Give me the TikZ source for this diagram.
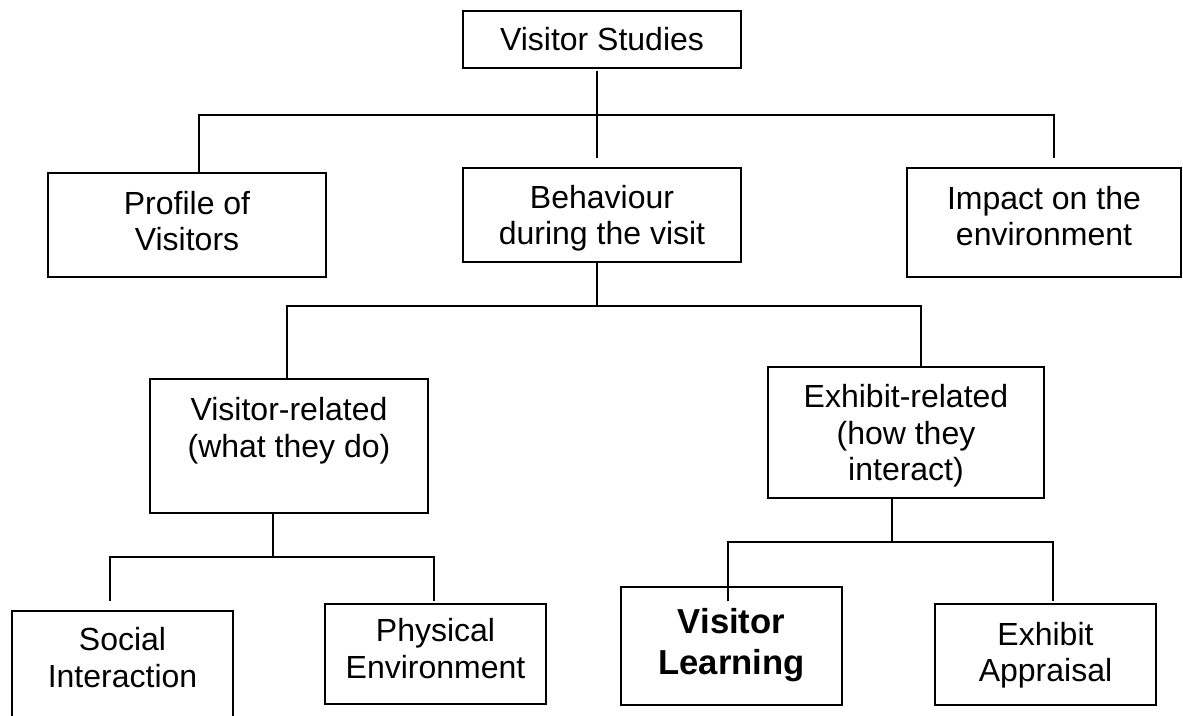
\documentclass[tikz,border=0pt]{standalone}
\usepackage{fontspec}
\setmainfont{Liberation Sans}
\usetikzlibrary{calc}

\tikzset{
  box/.style={draw, line width=1pt, align=center, inner sep=0pt,
    font=\fontsize{24}{27.5}\selectfont},
  wide/.style={minimum width=208.5pt},
  narrow/.style={minimum width=165.75pt},
  link/.style={line width=1pt}
}

\begin{document}
\begin{tikzpicture}[x=0.75pt, y=-0.75pt]
    \useasboundingbox (0,0) rectangle (1183,715);
    \clip (0,0) rectangle (1183,715);

    % Draw boxes
    \node[box, wide, minimum height=42.75pt] (vs) at (602,39.5) {Visitor Studies};
    \node[box, wide, minimum height=78pt, text depth=6pt] (pv) at (187,225) {Profile of\\Visitors};
    \node[box, wide, minimum height=70.5pt, text depth=0pt] (bh) at (602,215) {Behaviour\\during the visit};
    \node[box, minimum width=205.5pt, minimum height=81.75pt, text depth=10pt] (im) at (1044,222.5) {Impact on the\\environment};
    \node[box, wide, minimum height=100.5pt, text depth=28pt] (vr) at (289,446) {Visitor-related\\(what they do)};
    \node[box, minimum width=207pt, minimum height=98.25pt, text depth=0pt] (ex) at (906,432.5) {Exhibit-related\\(how they\\interact)};
    \node[box, narrow, minimum height=100.5pt, text depth=31pt] (si) at (122.5,678) {Social\\Interaction};
    \node[box, narrow, minimum height=75pt, text depth=8pt] (pe) at (435.5,654) {Physical\\Environment};
    \node[box, narrow, minimum height=88.5pt, text depth=6.75pt,
      font=\fontsize{26}{30.5}\selectfont\bfseries] (vl) at (731.5,646) {Visitor\\Learning};
    \node[box, narrow, minimum height=75.75pt, text depth=4pt] (ea) at (1045.5,654.5) {Exhibit\\Appraisal};

    % Branch points
    \coordinate (b1) at (597,115);
    \coordinate (b1l) at (199,115);
    \coordinate (b1r) at (1054,115);
    \coordinate (b2) at (597,306);
    \coordinate (b2l) at (287,306);
    \coordinate (b2r) at (921,306);
    \coordinate (b3) at (273,557);
    \coordinate (b3l) at (110,557);
    \coordinate (b3r) at (434,557);
    \coordinate (b4) at (892,542);
    \coordinate (b4l) at (728,542);
    \coordinate (b4r) at (1053,542);

    % Top level
    \draw[link, shorten <=1.5pt, shorten >=7pt] (vs.south -| b1) -- (bh.north -| b1);
    \draw[link, shorten >=6.75pt] (pv.north -| b1l) -- (b1l) -- (b1r) -- (im.north -| b1r);

    % Behaviour split
    \draw[link] (bh.south -| b2) -- (b2);
    \draw[link] (vr.north -| b2l) -- (b2l) -- (b2r) -- (ex.north -| b2r);

    % Visitor-related split
    \draw[link] (vr.south -| b3) -- (b3);
    \draw[link, shorten <=6.75pt, shorten >=1.5pt] (si.north -| b3l) -- (b3l) -- (b3r) -- (pe.north -| b3r);

    % Exhibit-related split
    \draw[link] (ex.south -| b4) -- (b4);
    \draw[link, shorten >=1.5pt] ($(vl.north -| b4l)+(0,15)$) -- (b4l) -- (b4r) -- (ea.north -| b4r);
\end{tikzpicture}
\end{document}
